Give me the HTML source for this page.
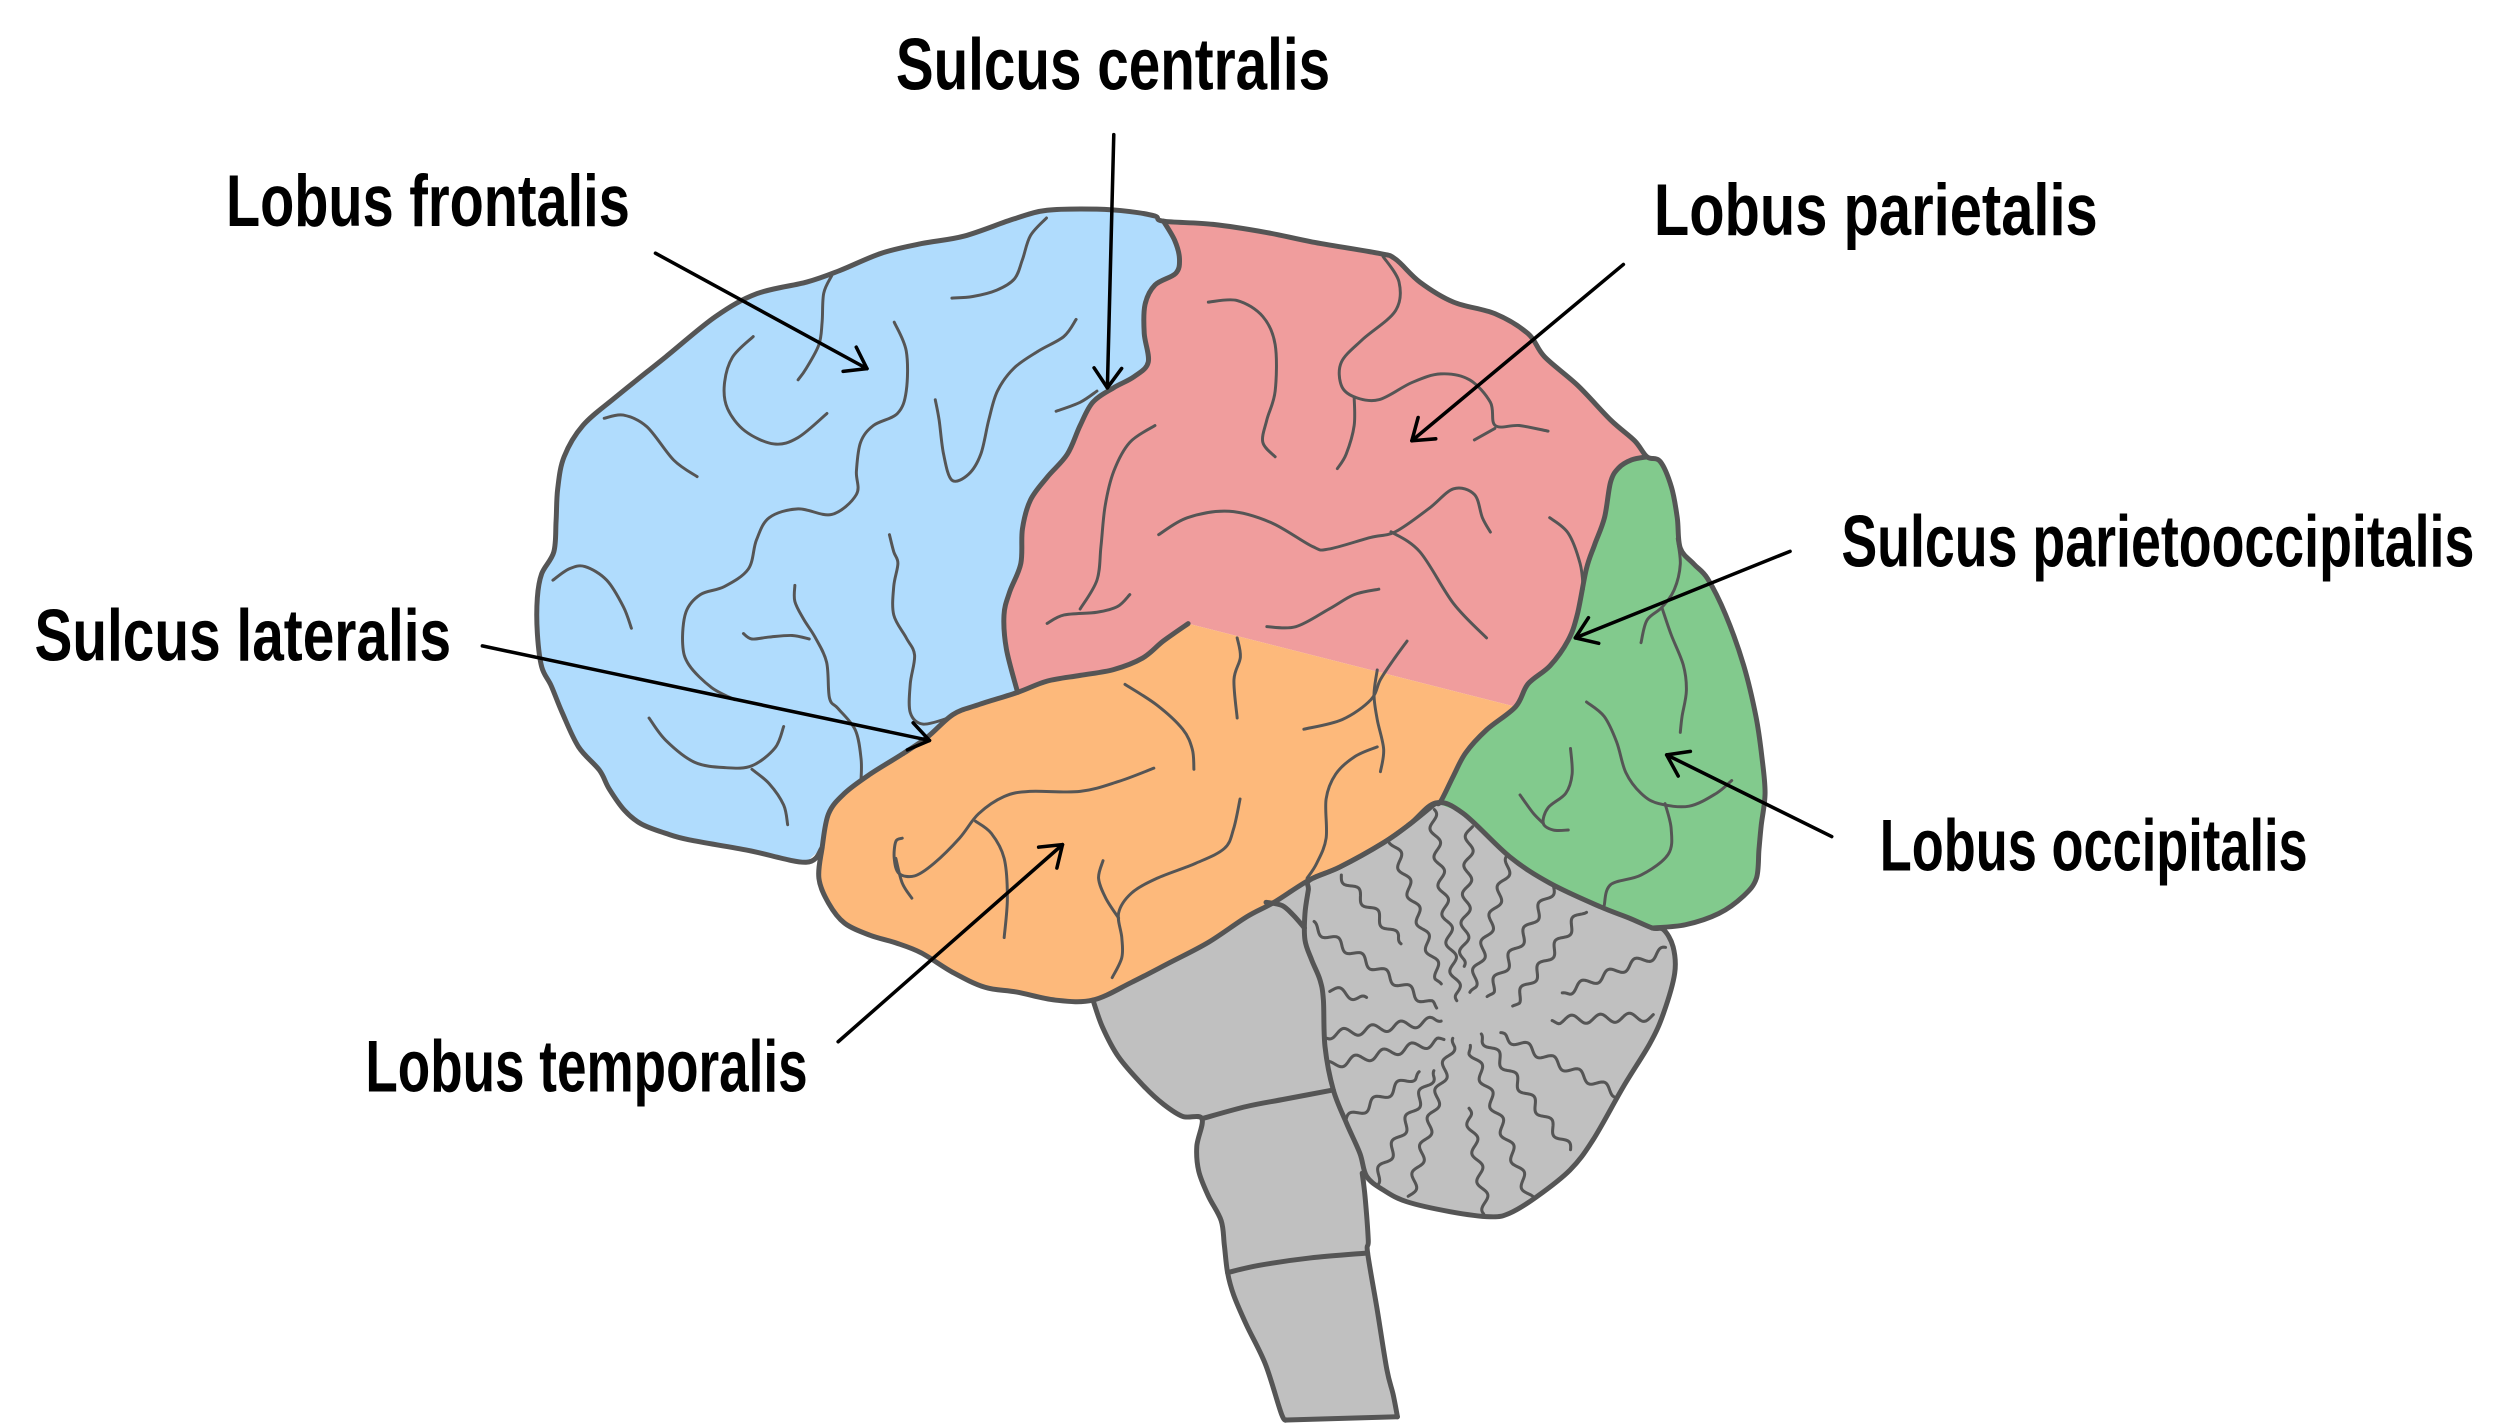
<!DOCTYPE html>
<html><head><meta charset="utf-8"><style>
html,body{margin:0;padding:0;background:#fff;}
svg{display:block;}
.o{fill:none;stroke:#555;stroke-width:3.1;stroke-linejoin:round;stroke-linecap:round;}
.s{fill:none;stroke:#555;stroke-width:1.85;stroke-linejoin:round;stroke-linecap:round;}
.a{fill:none;stroke:#000;stroke-width:2.2;stroke-linejoin:round;stroke-linecap:round;}
text{font-family:"Liberation Sans",sans-serif;font-weight:bold;font-size:46px;fill:#000;}
</style></head><body>
<svg width="2500" height="1428" viewBox="0 0 1560 891" preserveAspectRatio="none" xmlns="http://www.w3.org/2000/svg">
<defs>
<clipPath id="cbclip"><polygon points="817.4,549 836,541 863,526 880,514 896,501 913,507.5 942,534.5 967,551 998.4,565.7 1016.6,572.8 1031,579 1038,580 1044,590.7 1045,607.3 1038,632.3 1029.6,651 1013,678 994,711.3 979.7,730 958.9,746.7 942,757 929.8,759.2 904.8,756 877.8,749.8 863.2,742.5 852.8,734 848.6,719.7 840.3,701 832,680.1 826.8,653 825.8,624 823.7,611.5 818.5,599 814.3,586.5 814.3,570 816.4,555.3"/></clipPath>
</defs>

<!-- fills -->
<polygon fill="#b0dcfd" points="513,529 503,538 467,530.6 430,524 415.5,520 400,514 389.6,505.5 380,492 374,480.5 361,466 350.8,444.6 344,428 338,416 335.3,395 335.3,373 338,358 345.6,344.3 347,325 348,305 352,285 363.7,265.5 384.4,247.6 415.5,222.6 446.5,197.5 472.4,183.2 503.4,176 524,168.8 550,158 575,152 601.7,147.3 632.7,136.6 653.4,131.2 684.5,130.5 705,132 720.7,134.8 726,138 733,150 736,161.6 733.6,170.6 720.7,177.8 714.5,190 714,208 716.5,226 707.7,235 694.8,242 681.9,251 674,265.5 666,283.4 653.4,297.8 643,312 638,330 637,351.5 630,369.4 626.5,383.7 628,405 635,432 610.6,439.7 594.7,445.8 578.8,459.8 562.9,470.6 543,483 527,495 517,507.8"/>
<polygon fill="#f09d9d" points="726,138 757,140 790,145 819,151 860,158 870.7,161.6 886,176 907,188.5 932.8,195.7 953.5,208.2 963.8,222.6 984.5,240.5 1005,262 1020,275 1027.7,285 1018,287 1010,292 1005,300.8 1001.2,323 995,340 989.9,355 984.2,383.6 978.5,399.5 967.2,415.4 953.5,426.7 945.7,441 741.4,389.1 726,399.9 713,410.6 694.8,417.8 674,421.4 653.4,425 635,432 628,405 626.5,383.7 630,369.4 637,351.5 638,330 643,312 653.4,297.8 666,283.4 674,265.5 681.9,251 694.8,242 707.7,235 716.5,226 714,208 714.5,190 720.7,177.8 733.6,170.6 736,161.6 733,150"/>
<polygon fill="#fdb97b" points="635,432 653.4,425 674,421.4 694.8,417.8 713,410.6 726,399.9 741.4,389.1 945.7,441 927.6,455.4 914.6,469.7 907,484 899,500 896,501 880,514 863,526 836,541 817,549 795,563 778,572 754,588 730,600.6 706,613 682,624 658.4,624 634.5,619 614.6,616 594.7,606.8 574.8,594.5 559,588.3 543,583.6 527,576 517,563.5 511,548 513,529 517,507.8 527,495 543,483 562.9,470.6 578.8,459.8 594.7,445.8 610.6,439.7"/>
<polygon fill="#82ca8d" points="1027.7,285 1036,288 1043,304 1046.6,323 1048.5,342 1057,352 1065.5,361 1076.8,383.6 1088,415 1095.7,447 1099.5,473 1101.4,495 1099,515 1097.6,530 1096,548 1088,559 1072.5,570 1051.7,577 1031,579 1016.6,572.8 998.4,565.7 967,551 942,534.5 913,507.5 896,501 899,500 907,484 914.6,469.7 927.6,455.4 945.7,441 953.5,426.7 967.2,415.4 978.5,399.5 984.2,383.6 989.9,355 995,340 1001.2,323 1005,300.8 1010,292 1018,287"/>
<polygon fill="#c0c0c0" points="682,624 706,613 730,600.6 754,588 778,572 795,563 817.4,549 816.4,555.3 814.3,570 814.3,586.5 818.5,599 823.7,611.5 825.8,624 826.8,653 832,680.1 801.7,685.8 777.8,690.4 750,698 738,696.6 726,689 714,678 698,659.5 688,641"/>
<polygon fill="#c0c0c0" points="750,698 777.8,690.4 801.7,685.8 832,680.1 840.3,701 848.6,719.7 852.8,734 851.8,746.7 853.8,773.7 853.4,781.8 859.4,817.4 865.4,854.5 869.3,870 872,884 803,886 799.7,882.4 789.7,851.4 777.8,826.7 769.8,808 766,794 764,777 762,761.6 754,746.2 748,730.7 746.8,715.2"/>
<polygon fill="#c0c0c0" points="817.4,549 836,541 863,526 880,514 896,501 913,507.5 942,534.5 967,551 998.4,565.7 1016.6,572.8 1031,579 1038,580 1044,590.7 1045,607.3 1038,632.3 1029.6,651 1013,678 994,711.3 979.7,730 958.9,746.7 942,757 929.8,759.2 904.8,756 877.8,749.8 863.2,742.5 852.8,734 848.6,719.7 840.3,701 832,680.1 826.8,653 825.8,624 823.7,611.5 818.5,599 814.3,586.5 814.3,570 816.4,555.3"/>

<!-- cerebellum folia -->
<g clip-path="url(#cbclip)"><g class="s" style="stroke-width:1.9">
<path class="wv" d="M837 546 L874.6 588.6"/>
<path class="wv" d="M869.4 525.2 L899.6 614.6"/>
<path class="wv" d="M893.4 505.4 L910 625"/>
<path class="wv" d="M917.3 515.8 L913 603.2"/>
<path class="wv" d="M942.2 535.6 L917.3 619.8"/>
<path class="wv" d="M969.3 553.3 L927.7 621.9"/>
<path class="wv" d="M988 567.8 L943.3 628.1"/>
<path class="wv" d="M1040 592.8 L974.5 619.8"/>
<path class="wv" d="M1031.7 634.4 L968.2 636.5"/>
<path class="wv" d="M1008.8 682.2 L936 644.8"/>
<path class="wv" d="M979.7 717.6 L923.5 644.8"/>
<path class="wv" d="M954.7 747.7 L917.3 652"/>
<path class="wv" d="M927.7 757 L916.2 691.6"/>
<path class="wv" d="M879.8 746.7 L906.9 647.9"/>
<path class="wv" d="M858 737.3 L895.4 667.7"/>
<path class="wv" d="M840.3 698.9 L886 668.7"/>
<path class="wv" d="M830 664.5 L901.7 649"/>
<path class="wv" d="M827.8 645.8 L899.6 636.5"/>
<path class="wv" d="M830 617.7 L852.8 623"/>
<path class="wv" d="M818.5 577.2 L896.5 629.2"/>
</g></g>

<!-- sulci -->
<g class="s">
<path class="sm" d="M653 136 L643 147 638 162 633 174 622 181 607 185 594 186"/>
<path class="sm" d="M519 172 L514 183 513 201 511 215 503 230 498 237"/>
<path class="sm" d="M470 210 L457 223 452 240 454 255 465 269 483 277 498 273 516 258"/>
<path class="sm" d="M558 201 L565.5 219 565.5 244 560 258 545 265.5 537 276 534.4 294 534.4 308.5 519 321 498 317.5 480 323 472 337 467 355 452 366 437 371 428 382 426 402 430 415 444 429 458.5 436.6"/>
<path class="sm" d="M583.6 249.4 L586 262 588.8 283.4 594 299.6 604.3 296 612 283.4 617 262 622.4 244 632.7 229.7 648 219 663.8 210 671.5 199.3"/>
<path class="sm" d="M659 256.6 L674 251 684.5 244"/>
<path class="sm" d="M345 362 L355 355 365 353.5 378.6 362 389 378.6 394 392"/>
<path class="sm" d="M377 261 L389 259 403.6 266.2 420.4 287.1 435 297.4"/>
<path class="sm" d="M405 448 L415.5 462 433.4 475.6 453 479 469.2 477.8 483.6 466.7 489 453.3"/>
<path class="sm" d="M469.2 480 L480 489 489 502.3 491.5 514.6"/>
<path class="sm" d="M463.9 395.3 L469.2 398.7 480 397.5 494.3 396.5 505 398.7"/>
<path class="sm" d="M496 365.2 L496 375.3 501.5 386.4 508.6 397.6 515.8 413.2 517.6 435.5 523 442.1 533.7 455.5 537.3 473.4 537.3 486.7"/>
<path class="sm" d="M555 333.6 L557.7 344.3 560.3 351.5 557.7 365.8 557.7 383.7 565.5 398 570.7 408.8 568 426.7 568 444.6 575.8 451.8 591.3 448.2"/>
<path class="sm" d="M754 188.5 L772 187.5 788 197.5 795.7 215 795.7 244 790.5 262 788 276 795.7 285"/>
<path class="sm" d="M863 160 L873 176 870.7 194 850 212 837 226 837 240.5 845 247.6 860.4 249.4 881 238.7 899 233.3 917 237 930 251 933 265.5 948 265.5 966 269"/>
<path class="sm" d="M920 274.5 L932.8 267.3"/>
<path class="sm" d="M845 247.6 L845 265.5 840 283.4 834.5 292.4"/>
<path class="sm" d="M720.7 265.5 L705 276 695 294 689.6 315.7 687 341 684.5 362 674 380"/>
<path class="sm" d="M653.4 389 L664 383.7 684.5 382 697.4 378.4 705 371"/>
<path class="sm" d="M723 333.6 L741 323 767 319 793 326 819 341 829 342.6 855 335.4 870.7 331.8 891.4 317.5 907 305 920 308.5 925 323 930 332"/>
<path class="sm" d="M868 331.8 L886 344.3 907 376.6 927.6 398"/>
<path class="sm" d="M967 323 L978.5 332.6 986 351.7 988 367.6"/>
<path class="sm" d="M790.5 391 L808.6 391 829.3 380 845 371 860.4 367.6"/>
<path class="sm" d="M702 427 L722 440 738 455 744 467.5 745 480"/>
<path class="sm" d="M772 448 L770 424 774 410 772 398"/>
<path class="sm" d="M813.6 455 L837.5 449 855.4 436.6 861.4 424 869.3 412 878 400"/>
<path class="sm" d="M861.4 481.5 L863.4 467.5 859.4 449 857.4 433.5 859.4 418"/>
<path class="sm" d="M859.4 466 L845.5 472 833.5 483 827.5 498.5 827.5 523 821.6 538.7 815.6 548"/>
<path class="sm" d="M720 479.3 L698 487.6 674 493.8 642.5 493.8 626.6 497 610.6 507.8 598.7 523 582.8 538.7 570.8 546.5 561 545 558 535.6 559 525 563 523"/>
<path class="sm" d="M559 535.6 L563 551 569 560.4"/>
<path class="sm" d="M608.7 512.4 L618.6 520 626.6 535.6 628.6 560.4 626.6 585"/>
<path class="sm" d="M773.8 498.5 L769.8 517 764 529.4 746 538.7 722 548 706 557.3 698 569.7 700 585 700 597.5 694 610"/>
<path class="sm" d="M688.3 537 L685.5 548 690 560.4 698 572.8"/>
<path class="sm" d="M1046.6 336 L1048.5 352 1044.7 368 1037 379 1027.7 387 1024 401"/>
<path class="sm" d="M1037 379 L1042.8 396 1050.4 415 1052.3 431 1049.6 447 1048.5 457"/>
<path class="sm" d="M990 438 L1001 447 1008.8 463 1014.5 482 1024 495 1035 501.4 1054 503 1071 495 1080.6 487"/>
<path class="sm" d="M1039 501.4 L1042.8 517 1041 533 1024 546 1005 552 1001 565"/>
<path class="sm" d="M980 467 L981 483 977 495 966 504 963 513.7 969.3 517.9 978.6 517.9"/>
<path class="sm" d="M948.5 496 L956.8 507.5 963 513.7"/>
</g>

<!-- outlines -->
<g class="o">
<path class="sm" d="M513 529 L503 538 467 530.6 430 524 415.5 520 400 514 389.6 505.5 380 492 374 480.5 361 466 350.8 444.6 344 428 338 416 335.3 395 335.3 373 338 358 345.6 344.3 347 325 348 305 352 285 363.7 265.5 384.4 247.6 415.5 222.6 446.5 197.5 472.4 183.2 503.4 176 524 168.8 550 158 575 152 601.7 147.3 632.7 136.6 653.4 131.2 684.5 130.5 705 132 720.7 134.8 726 138 757 140 790 145 819 151 860 158 870.7 161.6 886 176 907 188.5 932.8 195.7 953.5 208.2 963.8 222.6 984.5 240.5 1005 262 1020 275 1027.7 285 1036 288 1043 304 1046.6 323 1048.5 342 1057 352 1065.5 361 1076.8 383.6 1088 415 1095.7 447 1099.5 473 1101.4 495 1099 515 1097.6 530 1096 548 1088 559 1072.5 570 1051.7 577 1031 579"/>
<path class="sm" d="M726 138 L733 150 736 161.6 733.6 170.6 720.7 177.8 714.5 190 714 208 716.5 226 707.7 235 694.8 242 681.9 251 674 265.5 666 283.4 653.4 297.8 643 312 638 330 637 351.5 630 369.4 626.5 383.7 628 405 635 432"/>
<path class="sm" d="M741.4 389.1 L726 399.9 713 410.6 694.8 417.8 674 421.4 653.4 425 635 432 610.6 439.7 594.7 445.8 578.8 459.8 562.9 470.6 543 483 527 495 517 507.8 513 529 511 548 517 563.5 527 576 543 583.6 559 588.3 574.8 594.5 594.7 606.8 614.6 616 634.5 619 658.4 624 682 624 706 613 730 600.6 754 588 778 572 795 563 817 549 836 541 863 526 880 514 896 501"/>
<path class="sm" d="M1027.7 285 L1018 287 1010 292 1005 300.8 1001.2 323 995 340 989.9 355 984.2 383.6 978.5 399.5 967.2 415.4 953.5 426.7 945.7 441 927.6 455.4 914.6 469.7 907 484 899 500 896 501"/>
<path class="sm" d="M817.4 549 L836 541 863 526 880 514 896 501 913 507.5 942 534.5 967 551 998.4 565.7 1016.6 572.8 1031 579 1038 580 1044 590.7 1045 607.3 1038 632.3 1029.6 651 1013 678 994 711.3 979.7 730 958.9 746.7 942 757 929.8 759.2 904.8 756 877.8 749.8 863.2 742.5 852.8 734 848.6 719.7 840.3 701 832 680.1 826.8 653 825.8 624 823.7 611.5 818.5 599 814.3 586.5 814.3 570 816.4 555.3 Z"/>
<path class="sm" d="M682 624 L688 641 698 659.5 714 678 726 689 738 696.6 750 698 746.8 715.2 748 730.7 754 746.2 762 761.6 764 777 766 794 769.8 808 777.8 826.7 789.7 851.4 799.7 882.4 803 886"/>
<path d="M803 886 L872 884"/>
<path class="sm" d="M872 884 L869.3 870 865.4 854.5 859.4 817.4 853.4 781.8 853.8 773.7 851.8 746.7 850 732"/>
<path class="sm" d="M750 698 L777.8 690.4 801.7 685.8 832 680.1"/>
<path class="sm" d="M766 794 L785.8 789.5 817.6 784.9 853.4 781.8"/>
<path class="sm" d="M790 563 L800 565 807 571 814 579"/>
</g>

<!-- arrows -->
<g class="a">
<path d="M695 84 L691 242"/><path d="M682.7 229.5 L691 242 L699.9 229.9"/>
<path d="M409 158 L541 230"/><path d="M534.3 216.6 L541 230 L526.1 231.7"/>
<path d="M1013 165 L881 275"/><path d="M895.9 273.8 L881 275 L884.9 260.5"/>
<path d="M1117 344 L983 398"/><path d="M997.6 401.4 L983 398 L991.2 385.4"/>
<path d="M1143 522 L1040 471"/><path d="M1047.2 484.2 L1040 471 L1054.8 468.8"/>
<path d="M301 403 L580 462"/><path d="M569.8 451 L580 462 L566.2 467.9"/>
<path d="M523 650 L663 527"/><path d="M648.1 528.6 L663 527 L659.5 541.6"/>
</g>

<!-- labels -->
<text x="559" y="56" textLength="271" lengthAdjust="spacingAndGlyphs">Sulcus centralis</text>
<text x="141" y="141" textLength="252" lengthAdjust="spacingAndGlyphs">Lobus frontalis</text>
<text x="1032" y="146.5" textLength="277" lengthAdjust="spacingAndGlyphs">Lobus parietalis</text>
<text x="1149" y="353.5" textLength="395" lengthAdjust="spacingAndGlyphs">Sulcus parietooccipitalis</text>
<text x="21.5" y="412" textLength="260" lengthAdjust="spacingAndGlyphs">Sulcus lateralis</text>
<text x="1173" y="543" textLength="267" lengthAdjust="spacingAndGlyphs">Lobus occipitalis</text>
<text x="228" y="681" textLength="276" lengthAdjust="spacingAndGlyphs">Lobus temporalis</text>
</svg>
<script>
(function(){
var ps=document.querySelectorAll('path.sm');
for(var k=0;k<ps.length;k++){
 var p=ps[k];var d=p.getAttribute('d');var closed=/z/i.test(d);
 var n=d.replace(/[MLZmlz]/g,' ').trim().split(/[\s,]+/).map(Number);
 var pts=[];for(var i=0;i+1<n.length;i+=2)pts.push([n[i],n[i+1]]);
 var N=pts.length;if(N<3)continue;
 var s='M'+pts[0][0]+' '+pts[0][1];var segs=closed?N:N-1;
 for(var i=0;i<segs;i++){
  var p0=pts[closed?(i-1+N)%N:Math.max(i-1,0)],p1=pts[i],p2=pts[(i+1)%N],p3=pts[closed?(i+2)%N:Math.min(i+2,N-1)];
  var c1x=p1[0]+(p2[0]-p0[0])/6,c1y=p1[1]+(p2[1]-p0[1])/6,c2x=p2[0]-(p3[0]-p1[0])/6,c2y=p2[1]-(p3[1]-p1[1])/6;
  s+=' C'+c1x.toFixed(2)+' '+c1y.toFixed(2)+' '+c2x.toFixed(2)+' '+c2y.toFixed(2)+' '+p2[0]+' '+p2[1];
 }
 if(closed)s+='Z';
 p.setAttribute('d',s);
}
var ws=document.querySelectorAll('path.wv');
for(var k=0;k<ws.length;k++){
 var p=ws[k];var n=p.getAttribute('d').replace(/[MLml]/g,' ').trim().split(/[\s,]+/).map(Number);
 var x1=n[0],y1=n[1],x2=n[2],y2=n[3];var dx=x2-x1,dy=y2-y1;var L=Math.sqrt(dx*dx+dy*dy);
 var ux=dx/L,uy=dy/L,nx=-uy,ny=ux;var A=2.7,lam=18,ph=k*1.9;
 var s='';
 for(var t=0;t<=L;t+=0.8){
  var tp=Math.min(1,(L-t)/6+0.2);
  var o=A*Math.sin(2*Math.PI*t/lam+ph)*tp;
  var x=x1+ux*t+nx*o,y=y1+uy*t+ny*o;
  s+=(s?' L':'M')+x.toFixed(2)+' '+y.toFixed(2);
 }
 p.setAttribute('d',s);
}
})();
</script>
</body></html>
